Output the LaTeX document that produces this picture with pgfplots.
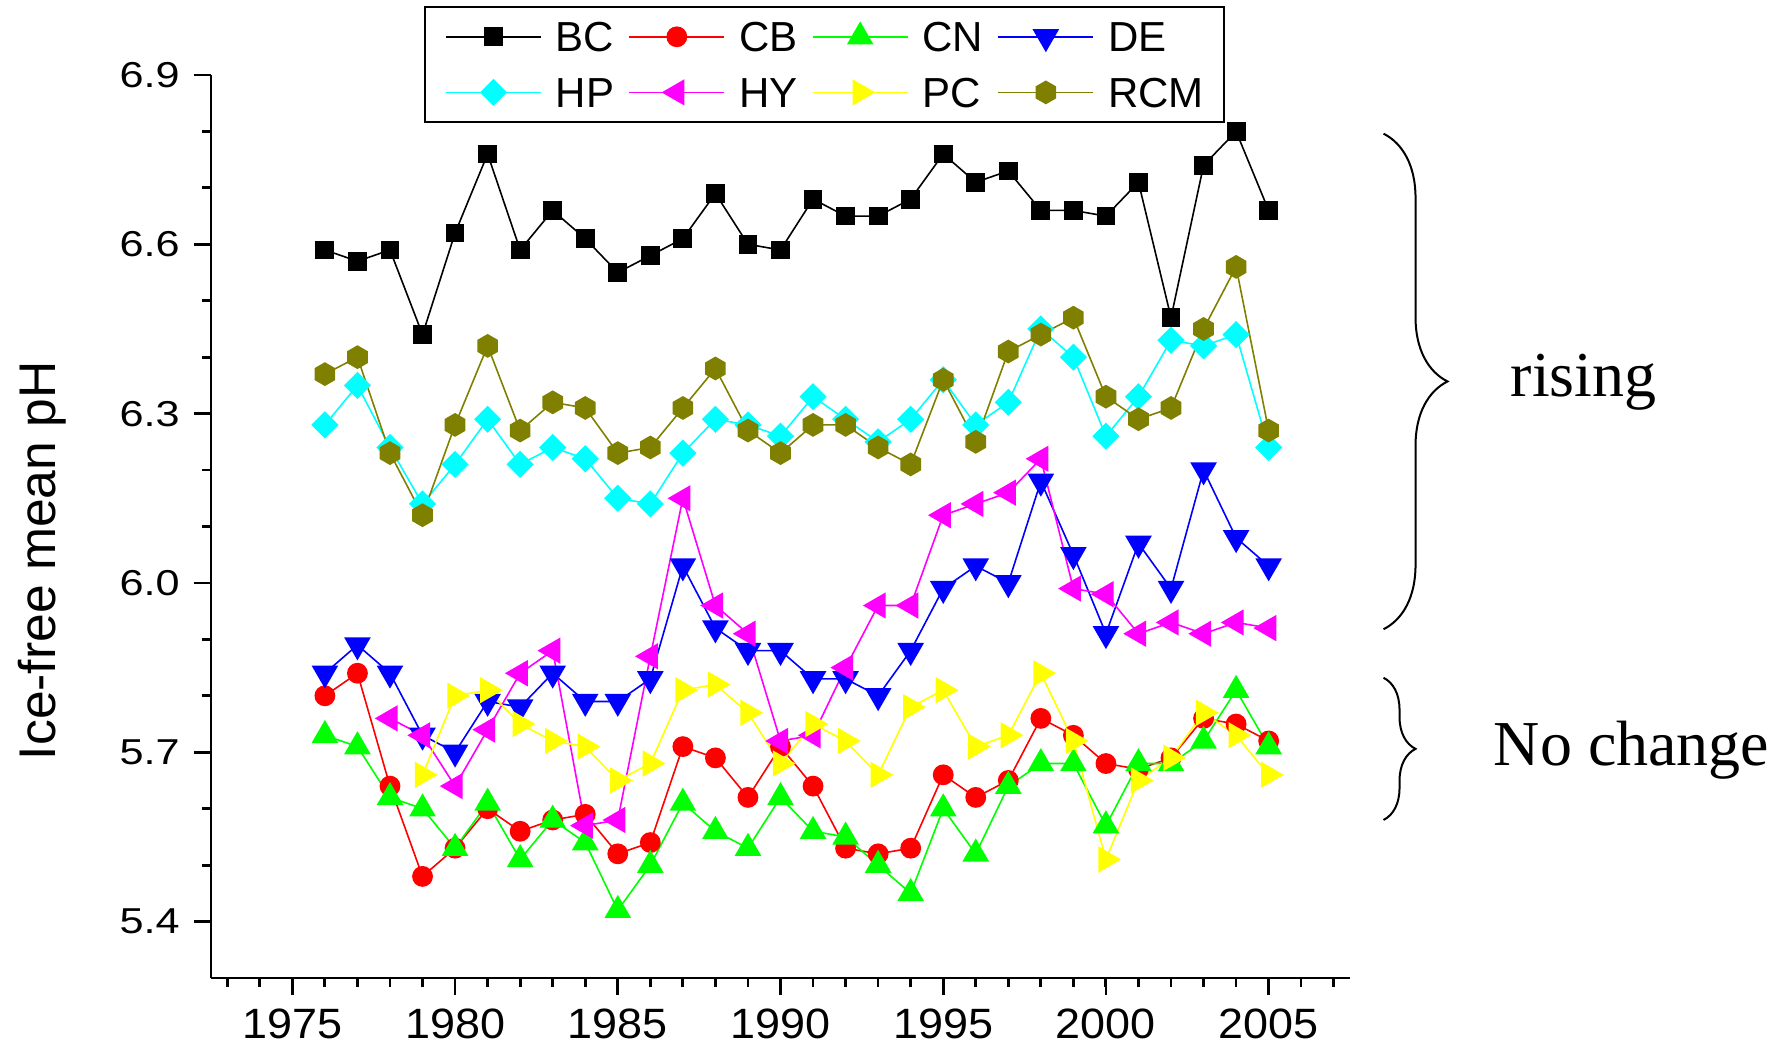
\documentclass[border=0pt]{standalone}
\usepackage{fontspec}
\setmainfont{Liberation Sans}
\newfontfamily\serif{Liberation Serif}
\newfontfamily\tickx[FakeStretch=1.06]{Liberation Sans}
\newfontfamily\ticky[FakeStretch=1.2]{Liberation Sans}
\usepackage{pgfplots}
\usepackage{pgfplotstable}
\pgfplotsset{compat=1.18}
\usetikzlibrary{decorations.pathreplacing}

\definecolor{cbred}{RGB}{255,0,0}
\definecolor{cngreen}{RGB}{0,255,0}
\definecolor{deblue}{RGB}{0,0,255}
\definecolor{hpcyan}{RGB}{0,255,255}
\definecolor{hymag}{RGB}{255,0,255}
\definecolor{pcyellow}{RGB}{255,255,0}
\definecolor{rcmolive}{RGB}{128,128,0}

% filled hexagon, point up
\pgfdeclareplotmark{hexagon*}{%
  \pgfpathmoveto{\pgfpointpolar{90}{\pgfplotmarksize}}%
  \pgfpathlineto{\pgfpointpolar{150}{\pgfplotmarksize}}%
  \pgfpathlineto{\pgfpointpolar{210}{\pgfplotmarksize}}%
  \pgfpathlineto{\pgfpointpolar{270}{\pgfplotmarksize}}%
  \pgfpathlineto{\pgfpointpolar{330}{\pgfplotmarksize}}%
  \pgfpathlineto{\pgfpointpolar{30}{\pgfplotmarksize}}%
  \pgfpathclose\pgfusepathqfillstroke}

\pgfplotstableread{
year BC   CB   CN   DE   HP   HY   PC   RCM
1976 6.59 5.80 5.73 5.84 6.28 nan  nan  6.37
1977 6.57 5.84 5.71 5.89 6.35 nan  nan  6.40
1978 6.59 5.64 5.62 5.84 6.24 5.76 nan  6.23
1979 6.44 5.48 5.60 5.73 6.14 5.73 5.66 6.12
1980 6.62 5.53 5.53 5.70 6.21 5.64 5.80 6.28
1981 6.76 5.60 5.61 5.79 6.29 5.74 5.81 6.42
1982 6.59 5.56 5.51 5.78 6.21 5.84 5.75 6.27
1983 6.66 5.58 5.58 5.84 6.24 5.88 5.72 6.32
1984 6.61 5.59 5.54 5.79 6.22 5.57 5.71 6.31
1985 6.55 5.52 5.42 5.79 6.15 5.58 5.65 6.23
1986 6.58 5.54 5.50 5.83 6.14 5.87 5.68 6.24
1987 6.61 5.71 5.61 6.03 6.23 6.15 5.81 6.31
1988 6.69 5.69 5.56 5.92 6.29 5.96 5.82 6.38
1989 6.60 5.62 5.53 5.88 6.28 5.91 5.77 6.27
1990 6.59 5.71 5.62 5.88 6.26 5.72 5.68 6.23
1991 6.68 5.64 5.56 5.83 6.33 5.73 5.75 6.28
1992 6.65 5.53 5.55 5.83 6.29 5.85 5.72 6.28
1993 6.65 5.52 5.50 5.80 6.25 5.96 5.66 6.24
1994 6.68 5.53 5.45 5.88 6.29 5.96 5.78 6.21
1995 6.76 5.66 5.60 5.99 6.36 6.12 5.81 6.36
1996 6.71 5.62 5.52 6.03 6.28 6.14 5.71 6.25
1997 6.73 5.65 5.64 6.00 6.32 6.16 5.73 6.41
1998 6.66 5.76 5.68 6.18 6.45 6.22 5.84 6.44
1999 6.66 5.73 5.68 6.05 6.40 5.99 5.72 6.47
2000 6.65 5.68 5.57 5.91 6.26 5.98 5.51 6.33
2001 6.71 5.67 5.68 6.07 6.33 5.91 5.65 6.29
2002 6.47 5.69 5.68 5.99 6.43 5.93 5.69 6.31
2003 6.74 5.76 5.72 6.20 6.42 5.91 5.77 6.45
2004 6.80 5.75 5.81 6.08 6.44 5.93 5.73 6.56
2005 6.66 5.72 5.71 6.03 6.24 5.92 5.66 6.27
}\phdata

\begin{document}
\begin{tikzpicture}
\useasboundingbox (-52.75pt,-17.5pt) rectangle (393.5pt,244.5pt);
\begin{axis}[
  scale only axis,
  width=284.75pt, height=225.75pt,
  xmin=1972.5, xmax=2007.5,
  ymin=5.3, ymax=6.9,
  axis lines*=left,
  axis line style={line width=0.7pt},
  tick align=outside,
  major tick length=4.3pt, minor tick length=2.2pt,
  tick style={line width=0.7pt, black},
  xtick={1975,1980,...,2005},
  minor xtick={1973,...,2007},
  ytick={5.4,5.7,6.0,6.3,6.6,6.9},
  minor ytick={5.5,5.6,5.8,5.9,6.1,6.2,6.4,6.5,6.7,6.8},
  /pgf/number format/assume math mode=true,
  xticklabel style={font=\tickx\fontsize{10.6}{12}\selectfont, /pgf/number format/1000 sep={}},
  yticklabel style={font=\ticky\fontsize{9}{11}\selectfont,
    /pgf/number format/.cd, fixed, fixed zerofill, precision=1},
  ylabel={Ice-free mean pH},
  every axis y label/.style={at={(axis description cs:-0.1484,0.462)},
    rotate=90, anchor=center, inner sep=0pt, font=\fontsize{12.9}{15}\selectfont},
  clip=false,
  legend columns=4,
  legend cell align=left,
  legend image code/.code={\draw[#1, mark repeat=2, mark phase=2]
    plot coordinates {(0pt,0pt) (11.875pt,0pt) (23.75pt,0pt)};},
  legend style={at={(0.187,1.0764)}, anchor=north west, draw=black, line width=0.6pt,
    font=\fontsize{10.5}{12}\selectfont, inner xsep=5pt, inner ysep=3.6pt,
    row sep=6.3pt,
    nodes={inner xsep=0pt, inner ysep=0pt, text height=7.6pt, text depth=0pt},
    /tikz/every odd column/.append style={column sep=3.5pt},
    /tikz/every even column/.append style={column sep=3.6pt}},
]
\addplot[black, line width=0.4pt, mark=square*, mark size=2.15pt, mark options={solid}]
  table[x=year, y=BC] {\phdata};
\addlegendentry{BC}
\addplot[cbred, line width=0.4pt, mark=*, mark size=2.4pt, mark options={solid}]
  table[x=year, y=CB] {\phdata};
\addlegendentry{CB}
\addplot[cngreen, line width=0.4pt, mark=triangle*, mark size=3.45pt, mark options={solid}]
  table[x=year, y=CN] {\phdata};
\addlegendentry{CN}
\addplot[deblue, line width=0.4pt, mark=triangle*, mark size=3.45pt, mark options={solid, rotate=180}]
  table[x=year, y=DE] {\phdata};
\addlegendentry{DE}
\addplot[hpcyan, line width=0.4pt, mark=square*, mark size=2.2pt, mark options={solid, rotate=45}]
  table[x=year, y=HP] {\phdata};
\addlegendentry{HP}
\addplot[hymag, line width=0.4pt, mark=triangle*, mark size=3.4pt, mark options={solid, rotate=90}]
  table[x=year, y=HY] {\phdata};
\addlegendentry{HY}
\addplot[pcyellow, line width=0.4pt, mark=triangle*, mark size=3.4pt, mark options={solid, rotate=-90}]
  table[x=year, y=PC] {\phdata};
\addlegendentry{PC}
\addplot[rcmolive, line width=0.4pt, mark=hexagon*, mark size=2.75pt, mark options={solid}]
  table[x=year, y=RCM] {\phdata};
\addlegendentry{RCM}

% trend braces and notes
\draw[line width=0.5pt, decorate, decoration={brace, amplitude=16pt}]
  (axis cs:2008.53,6.796) -- (axis cs:2008.53,5.918);
\draw[line width=0.5pt, decorate, decoration={brace, amplitude=8pt}]
  (axis cs:2008.53,5.832) -- (axis cs:2008.53,5.580);
\node[anchor=base, font=\serif\fontsize{16}{19}\selectfont] at (axis cs:2014.68,6.330) {rising};
\node[anchor=base, font=\serif\fontsize{16}{19}\selectfont] at (axis cs:2016.15,5.676) {No change};
\end{axis}
\end{tikzpicture}
\end{document}
